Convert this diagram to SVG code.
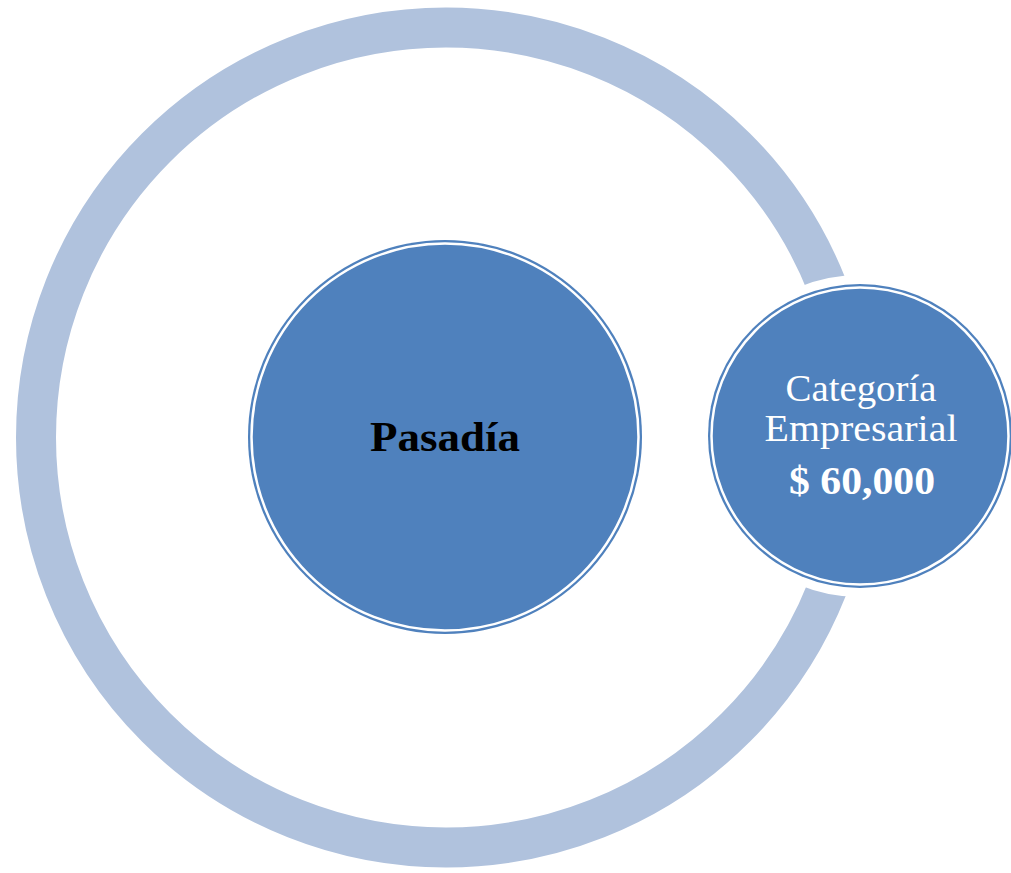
<svg xmlns="http://www.w3.org/2000/svg" width="1011" height="873" viewBox="0 0 1011 873">
<style>
.node{fill:#4F81BD;}
.inner{fill:none;stroke:#FFFFFF;stroke-width:2.5;}
.t{font-family:"Liberation Serif","DejaVu Serif",serif;text-anchor:middle;}
</style>
<rect width="1011" height="873" fill="#FFFFFF"/>
<g id="ring">
<circle cx="446" cy="437.5" r="410" fill="none" stroke="#B0C2DD" stroke-width="40"/>
<circle cx="860" cy="436" r="161" fill="#FFFFFF"/>
</g>
<g id="center">
<circle class="node" cx="445" cy="437" r="197"/>
<circle class="inner" cx="445" cy="437" r="193.5"/>
<text class="t" x="445" y="451" font-size="42" font-weight="bold" fill="#000000" textLength="150" lengthAdjust="spacingAndGlyphs">Pasadía</text>
</g>
<g id="right">
<circle class="node" cx="860" cy="436" r="152"/>
<circle class="inner" cx="860" cy="436" r="148.5"/>
<text class="t" x="861" y="401" font-size="38" fill="#FFFFFF" textLength="151" lengthAdjust="spacingAndGlyphs">Categoría</text>
<text class="t" x="861" y="441" font-size="38" fill="#FFFFFF" textLength="193" lengthAdjust="spacingAndGlyphs">Empresarial</text>
<text class="t" x="862" y="494" font-size="39" font-weight="bold" fill="#FFFFFF" textLength="146" lengthAdjust="spacingAndGlyphs">$ 60,000</text>
</g>
<g id="connectors"></g>
</svg>
